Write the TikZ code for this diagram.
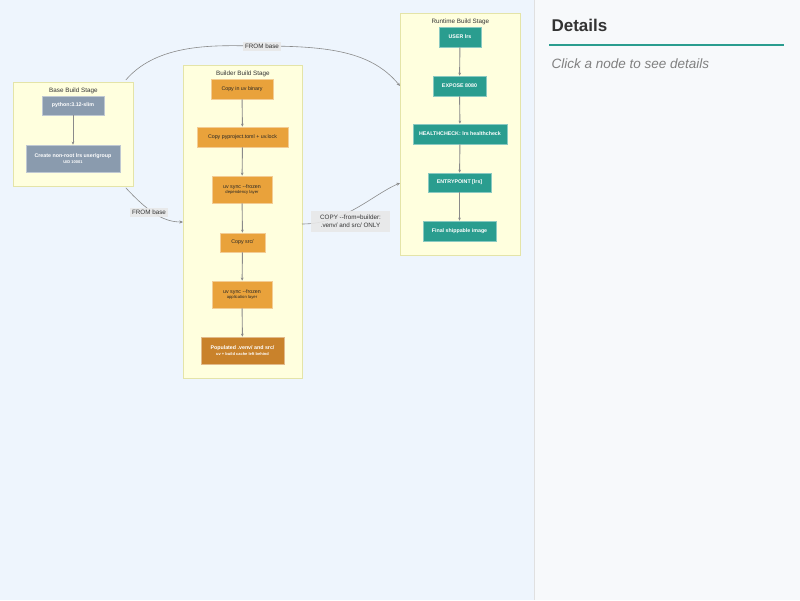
\documentclass[tikz,border=0pt]{standalone}
\usepackage{fontspec}
\setmainfont{Liberation Sans}
\usetikzlibrary{calc}
\usetikzlibrary{arrows.meta,positioning}
\definecolor{canvas}{HTML}{EEF5FD}
\definecolor{panel}{HTML}{F7F9FB}
\definecolor{stagefill}{HTML}{FFFFDE}
\definecolor{stageline}{HTML}{E4E4A8}
\definecolor{slate}{HTML}{8A9BAE}
\definecolor{amber}{HTML}{E9A23B}
\definecolor{rust}{HTML}{C9822B}
\definecolor{teal}{HTML}{2A9D8F}
\definecolor{wire}{HTML}{8A8A8A}

\begin{document}
\begin{tikzpicture}[x=1pt, y=-1pt,
			stage/.style = {draw=stageline, fill=stagefill, line width=0.8pt, inner sep=0pt, anchor=north west},
			title/.style = {font=\fontsize{6.3}{7.5}\selectfont, text=black!80, anchor=north},
			step base/.style = {draw=#1!55!white, line width=0.8pt, fill=#1, inner sep=1pt, align=center, font=\fontsize{5.3}{6.8}\selectfont},
			slatebox/.style = {step base=slate, text=white, font=\fontsize{5.3}{6.8}\selectfont\bfseries},
			amberbox/.style = {step base=amber, text=black!85},
			rustbox/.style = {step base=rust, text=white, font=\fontsize{5.3}{6.8}\selectfont\bfseries},
			tealbox/.style = {step base=teal, text=white, font=\fontsize{5.3}{6.8}\selectfont\bfseries},
			flow/.style = {draw=wire, line width=0.9pt, -{Stealth[length=3pt,width=2.8pt]}},
			link/.style = {draw=wire, line width=0.6pt, -{Stealth[length=3.5pt,width=3pt]}},
			tag/.style = {fill=black!9, fill opacity=0.9, text opacity=1, inner sep=2pt, align=center, font=\fontsize{6.3}{8}\selectfont, text=black!80}
			]
			\useasboundingbox (0,0) rectangle (800,600);
			\fill[canvas] (0,0) rectangle (534,600);
			\fill[panel] (534,0) rectangle (800,600);
			\draw[black!12, line width=0.8pt] (534,0) -- (534,600);
			
			% the three stages
			\node[stage, minimum width=120pt, minimum height=104pt] (base) at (13,82) {};
			\node[title] at ($(base.north)+(0,2)$) {Base Build Stage};
			\node[stage, minimum width=119pt, minimum height=313pt] (builder) at (183,65) {};
			\node[title] at ($(builder.north)+(0,2)$) {Builder Build Stage};
			\node[stage, minimum width=120pt, minimum height=242pt] (runtime) at (400,13) {};
			\node[title] at ($(runtime.north)+(0,2)$) {Runtime Build Stage};
			
			% base
			\node[slatebox, minimum width=62pt, minimum height=19pt] (py) at (73,105.5) {python:3.12-slim};
			\node[slatebox, minimum width=94pt, minimum height=27pt] (user) at (73,158.5) {Create non-root lrs user/group\\[-1pt]{\fontsize{4}{5}\selectfont UID 10001}};
			\draw[flow] (py) -- (user);
			
			% builder
			\node[amberbox, minimum width=62pt, minimum height=20pt] (uvbin) at (242,89) {Copy in uv binary};
			\node[amberbox, minimum width=91pt, minimum height=20pt] (lock) at (242.5,137) {Copy pyproject.toml + uv.lock};
			\node[amberbox, minimum width=60pt, minimum height=27pt] (deps) at (242,189.5) {uv sync -{}-frozen\\[-1pt]{\fontsize{4.2}{5}\selectfont dependency layer}};
			\node[amberbox, minimum width=45pt, minimum height=19pt] (src) at (242.5,242.5) {Copy src/};
			\node[amberbox, minimum width=60pt, minimum height=27pt] (app) at (242,294.5) {uv sync -{}-frozen\\[-1pt]{\fontsize{4.2}{5}\selectfont application layer}};
			\node[rustbox, minimum width=83pt, minimum height=27pt] (venv) at (242.5,350.5) {Populated .venv/ and src/\\[-1pt]{\fontsize{4}{5}\selectfont uv + build cache left behind}};
			\draw[flow] (uvbin) -- (lock);
			\draw[flow] (lock) -- (deps);
			\draw[flow] (deps) -- (src);
			\draw[flow] (src) -- (app);
			\draw[flow] (app) -- (venv);
			
			% runtime
			\node[tealbox, minimum width=42pt, minimum height=20pt] (lrsuser) at (460,37) {USER lrs};
			\node[tealbox, minimum width=53pt, minimum height=20pt] (expose) at (459.5,86) {EXPOSE 8080};
			\node[tealbox, minimum width=94pt, minimum height=20pt] (health) at (460,134) {HEALTHCHECK: lrs healthcheck};
			\node[tealbox, minimum width=63pt, minimum height=19pt] (entry) at (459.5,182.5) {ENTRYPOINT [lrs]};
			\node[tealbox, minimum width=73pt, minimum height=20pt] (final) at (459.5,231) {Final shippable image};
			\draw[flow] (lrsuser) -- (expose);
			\draw[flow] (expose) -- (health);
			\draw[flow] (health) -- (entry);
			\draw[flow] (entry) -- (final);
			
			% stage links
			\coordinate (tobuild) at ($(builder.north west)+(0,157)$);
			\coordinate (torun) at ($(runtime.north west)+(0,73)$);
			\coordinate (tocopy) at ($(runtime.north west)+(0,170)$);
			\draw[link] ($(base.north east)+(-8,-2)$) .. controls (160,40) and (225,46) .. (262,46)
				.. controls (330,46) and (372,52) .. (torun);
			\node[tag] at (262,46.5) {FROM base};
			\draw[link] ($(base.south east)+(-8,1)$) .. controls (150,214) and (165,222) .. (tobuild);
			\node[tag] at (149,212.5) {FROM base};
			\draw[link] ($(builder.north west)+(119,159)$) .. controls (345,224) and (372,195) .. (tocopy);
			\node[tag, inner xsep=3pt, minimum width=79pt, minimum height=21pt] at (350.5,221.5) {COPY -{}-from=builder:\\.venv/ and src/ ONLY};
			
			% details panel
			\node[anchor=west, font=\fontsize{17}{20}\selectfont\bfseries, text=black!80] (dtitle) at (548,25) {Details};
			\draw[teal, line width=2pt] (549,44.5) -- (784,44.5);
			\node[anchor=west, font=\fontsize{13.5}{16}\selectfont\itshape, text=black!50] (dhint) at (548,64) {Click a node to see details};
		\end{tikzpicture}
\end{document}
